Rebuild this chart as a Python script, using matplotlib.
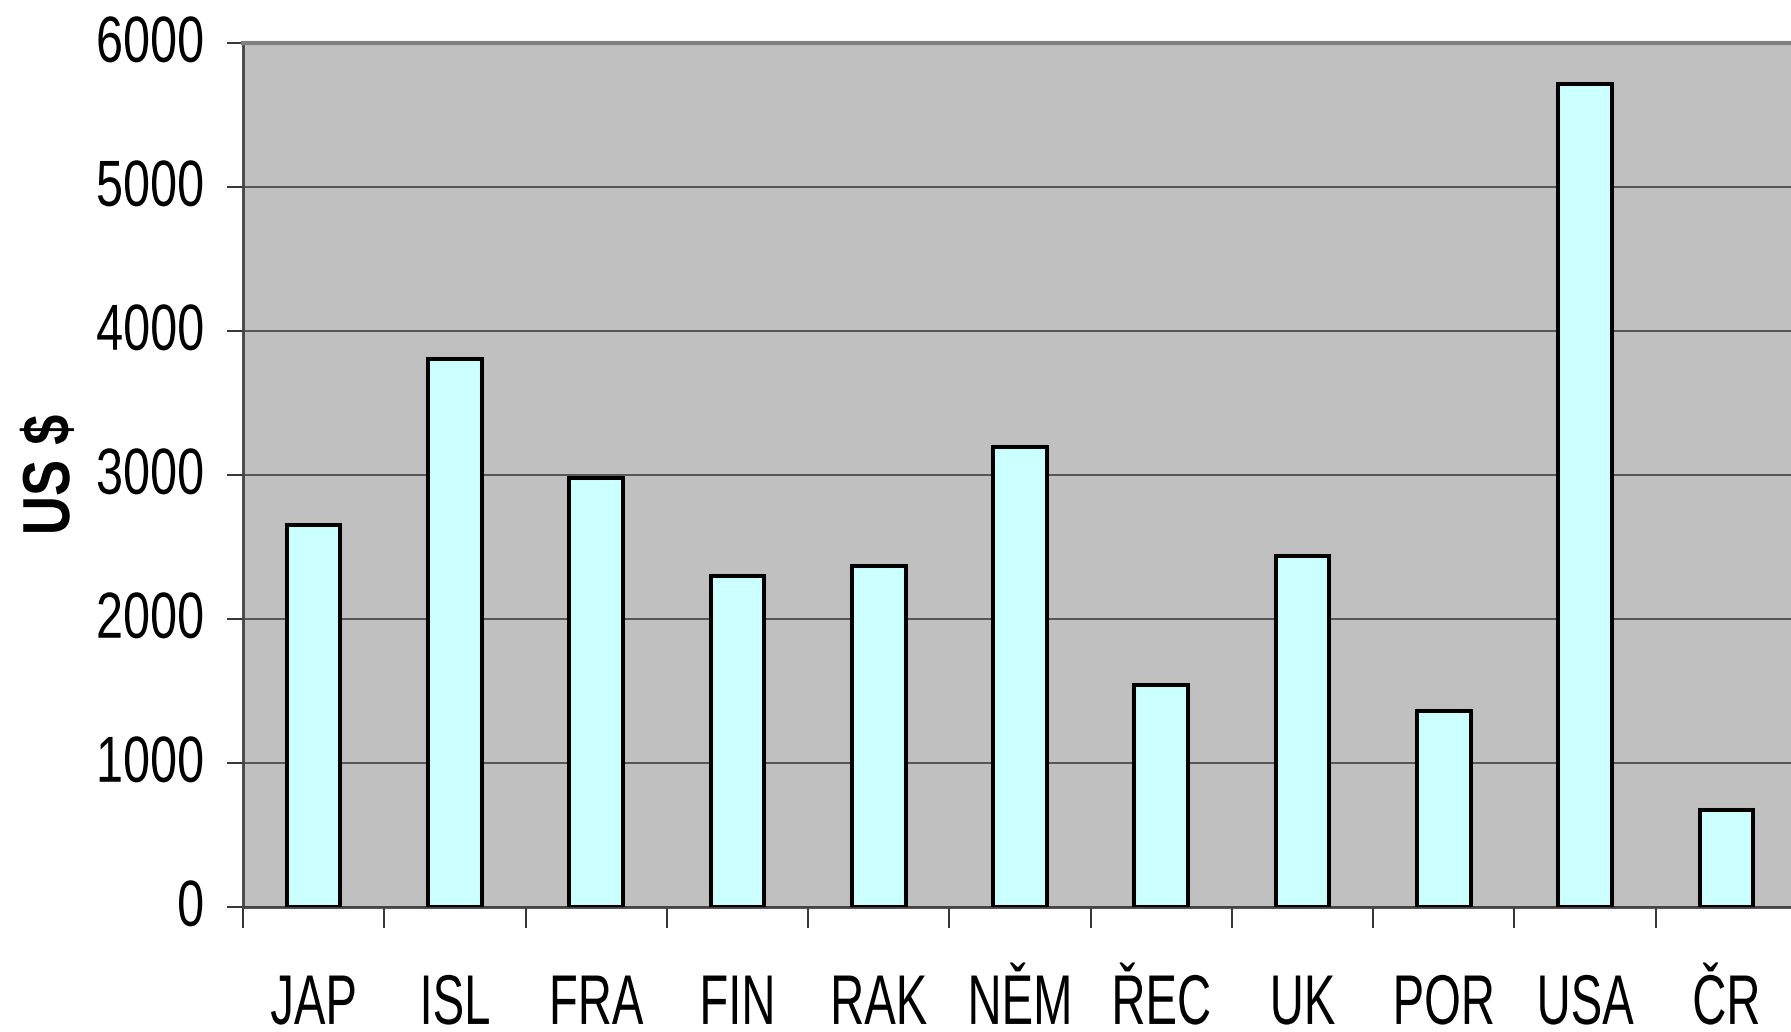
import matplotlib
matplotlib.use("Agg")
import matplotlib.pyplot as plt
from matplotlib.ticker import FixedLocator, NullFormatter
from matplotlib.patheffects import AbstractPathEffect
from matplotlib.transforms import Affine2D

# Spending per country, US $
countries = ["JAP", "ISL", "FRA", "FIN", "RAK", "NĚM", "ŘEC", "UK", "POR", "USA", "ČR"]
values = [2653, 3806, 2979, 2299, 2368, 3194, 1542, 2438, 1361, 5715, 674]
y_ticks = [0, 1000, 2000, 3000, 4000, 5000, 6000]

FONT = ["Liberation Sans", "DejaVu Sans"]
plt.rcParams["font.family"] = FONT


class Tall(AbstractPathEffect):
    """Draw text glyphs stretched vertically (a tall, narrow typeface look)."""

    def __init__(self, sy, anchor_y="center", offset=(0, 0)):
        super().__init__(offset)
        self.sy = sy
        self.anchor_y = anchor_y

    def draw_path(self, renderer, gc, tpath, affine, rgbFace=None):
        ext = tpath.get_extents()
        y0 = (ext.y0 + ext.y1) / 2 if self.anchor_y == "center" else 0.0
        t = (Affine2D().translate(0, -y0).scale(1, self.sy).translate(0, y0)
             + affine + self._offset_transform(renderer))
        renderer.draw_path(gc, tpath, t, rgbFace)


fig = plt.figure(figsize=(17.91, 10.32), dpi=100)
ax = fig.add_axes([243 / 1791, 1 - 907 / 1032, 1554 / 1791, (907 - 43) / 1032])
ax.set_facecolor("#C0C0C0")

x = list(range(len(countries)))
ax.bar(x, values, width=0.38, color="#CCFFFF", edgecolor="black",
       linewidth=2.9, zorder=3)

ax.set_xlim(-0.5, len(countries) - 0.5)
ax.set_ylim(0, 6000)

# horizontal gridlines
ax.set_yticks(y_ticks)
ax.yaxis.grid(True, color="#555555", linewidth=1.4, zorder=1)
ax.set_axisbelow(True)

# category labels at centres, tick marks at category boundaries
ax.set_xticks(x)
ax.set_xticklabels(countries, fontsize=34)
ax.tick_params(axis="x", which="major", length=0, pad=81)
for tick in ax.xaxis.get_major_ticks():
    tick.label1.set_verticalalignment("baseline")
    tick.label1.set_path_effects([Tall(1.49, "baseline", offset=(0, -3.2))])
ax.xaxis.set_minor_locator(FixedLocator([i - 0.5 for i in range(len(countries) + 1)]))
ax.xaxis.set_minor_formatter(NullFormatter())
ax.tick_params(axis="x", which="minor", length=15, width=1.3, color="#222222",
               direction="out")

ax.tick_params(axis="y", length=11.5, width=1.3, color="#222222", pad=16.5,
               labelsize=35)
for tick in ax.yaxis.get_major_ticks():
    tick.label1.set_path_effects([Tall(1.34, "center", offset=(0, 3.2))])

for side in ("left", "bottom"):
    ax.spines[side].set_color("#444444")
    ax.spines[side].set_linewidth(2.0)
ax.spines["top"].set_color("#808080")
ax.spines["top"].set_linewidth(3.0)
ax.spines["right"].set_visible(False)

ax.set_ylabel("US $", fontsize=39, fontweight="bold")
ax.yaxis.label.set_verticalalignment("center")
ax.yaxis.label.set_path_effects([Tall(1.23, "center")])
ax.yaxis.set_label_coords(-0.1236, 0.5)

fig.savefig("out.png", dpi=100)
